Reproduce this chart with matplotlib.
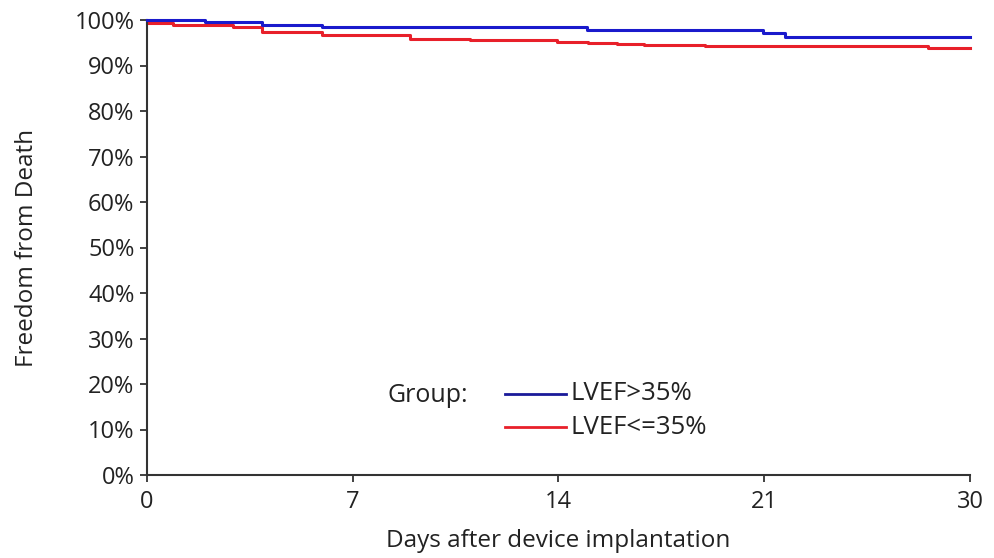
import matplotlib
matplotlib.use("Agg")
import matplotlib.pyplot as plt

plt.rcParams['font.family'] = ['Open Sans', 'DejaVu Sans']

# Tick positions (axis units) and their labels
x_tick_pos = [0, 7, 14, 21, 28]
x_tick_labels = ["0", "7", "14", "21", "30"]
y_ticks = list(range(0, 101, 10))

# Kaplan-Meier step curves (x in axis units, y in %)
blue_x = [0, 1.97, 3.91, 5.95, 14.97, 20.95, 21.7, 28]
blue_y = [100, 99.5, 98.8, 98.4, 97.8, 97.2, 96.3, 96.3]
red_x = [0, 0.88, 2.93, 3.91, 5.95, 8.95, 11.0, 13.95, 15.0, 15.99, 16.9, 18.98, 26.57, 28]
red_y = [99.4, 98.9, 98.5, 97.4, 96.7, 95.8, 95.5, 95.2, 94.9, 94.7, 94.4, 94.3, 93.8, 93.8]

fig = plt.figure(figsize=(9.95, 5.58), dpi=100)
ax = fig.add_axes([147/995, 83/558, 823/995, 455/558])

ax.step(blue_x, blue_y, where='post', color='#1a1acc', lw=2.2, clip_on=False, zorder=3)
ax.step(red_x, red_y, where='post', color='#e8202a', lw=2.2, clip_on=False, zorder=2)

ax.set_xlim(0, 28)
ax.set_ylim(0, 100)
ax.set_xticks(x_tick_pos)
ax.set_xticklabels(x_tick_labels)
ax.set_yticks(y_ticks)
ax.set_yticklabels([f"{v}%" for v in y_ticks])
for s in ['top', 'right']:
    ax.spines[s].set_visible(False)
for s in ['left', 'bottom']:
    ax.spines[s].set_linewidth(1.5)
    ax.spines[s].set_color('#333333')
ax.tick_params(axis='both', direction='out', length=5, width=1.3, labelsize=17,
               colors='#333333', labelcolor='#222222')
ax.tick_params(axis='x', pad=6)
ax.tick_params(axis='y', pad=4)
ax.set_xlabel("Days after device implantation", fontsize=17.5, color='#222222', va='center')
ax.set_ylabel("Freedom from Death", fontsize=17.5, color='#222222', va='center')
ax.xaxis.set_label_coords(0.5, (475 - 541) / 455)
ax.yaxis.set_label_coords((27 - 147) / 823, 0.5)

# Legend
fig.text(388/995, 1 - 396/558, "Group:", fontsize=18, color='#222222', va='center', ha='left')
fig.add_artist(plt.Line2D([505/995, 566/995], [1 - 394/558, 1 - 394/558], color='#1a1a99', lw=2))
fig.add_artist(plt.Line2D([505/995, 566/995], [1 - 427/558, 1 - 427/558], color='#e8202a', lw=2))
fig.text(571/995, 1 - 394/558, "LVEF>35%", fontsize=18.5, color='#222222', va='center', ha='left')
fig.text(571/995, 1 - 427/558, "LVEF<=35%", fontsize=18.5, color='#222222', va='center', ha='left')

fig.savefig("out.png", dpi=100)
